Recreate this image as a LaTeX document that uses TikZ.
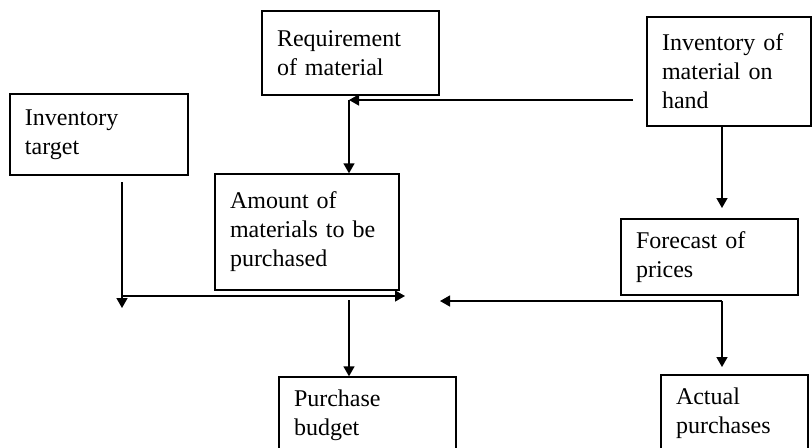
\documentclass[tikz,border=0pt]{standalone}
\usepackage{fontspec}
\setmainfont{Liberation Serif}
\usetikzlibrary{arrows.meta,calc,positioning}
\tikzset{%
	block/.style    = {draw, rectangle, line width=0.7pt, align=left, inner xsep=7.5pt, inner ysep=0pt, font=\fontsize{12}{14.5}\selectfont},
	waypoint/.style = {coordinate},
}

\begin{document}
\begin{tikzpicture}[x=0.5pt,y=-0.5pt,>={Triangle[length=5pt,width=5.5pt]},line width=0.7pt]
	\useasboundingbox (0,0) rectangle (812,447);
	\node [block, text width=73.5pt, minimum height=42pt] (req) at (350.5,53) {Requirement\\of material};
	\node [block, text width=74pt, minimum height=40.5pt] (invt) at (99,134.5) {Inventory\\target};
	\node [block, text width=67pt, minimum height=54.5pt] (invh) at (729,71.5) {Inventory of\\material on\\hand};
	\node [block, text width=77pt, minimum height=58pt] (amt) at (307,232) {Amount of\\materials to be\\purchased};
	\node [block, text width=73.5pt, minimum height=38pt] (fcst) at (709.5,257) {Forecast of\\prices};
	\node [block, text width=73.5pt, minimum height=38pt] (pbud) at (367.5,415) {Purchase\\budget};
	\node [block, text width=58.5pt, minimum height=38.5pt] (act) at (734.5,413.5) {Actual\\purchases};
	% waypoints
	\node [waypoint] (h1) at (633,100) {};
	\node [waypoint] (j1) at (349,100) {};
	\node [waypoint] (t1) at (122,182) {};
	\node [waypoint] (t2) at (122,308) {};
	\node [waypoint] (m1) at (122,296) {};
	\node [waypoint] (m2) at (405,296) {};
	\node [waypoint] (b1) at (349,300) {};
	\node [waypoint] (f1) at (722,208) {};
	\node [waypoint] (p1) at (722,301) {};
	\node [waypoint] (p2) at (440,301) {};
	\node [waypoint] (p3) at (722,367) {};
	\draw[->] (h1) -- (j1);
	\draw[->] (j1) -- (j1 |- amt.north);
	\draw[->] (t1) -- (t2);
	\draw[->] (m1) -- (m2);
	\draw[->] (b1) -- (b1 |- pbud.north);
	\draw[->] (f1 |- invh.south) -- (f1);
	\draw[->] (p1) -- (p2);
	\draw[->] (p1) -- (p3);
\end{tikzpicture}
\end{document}
